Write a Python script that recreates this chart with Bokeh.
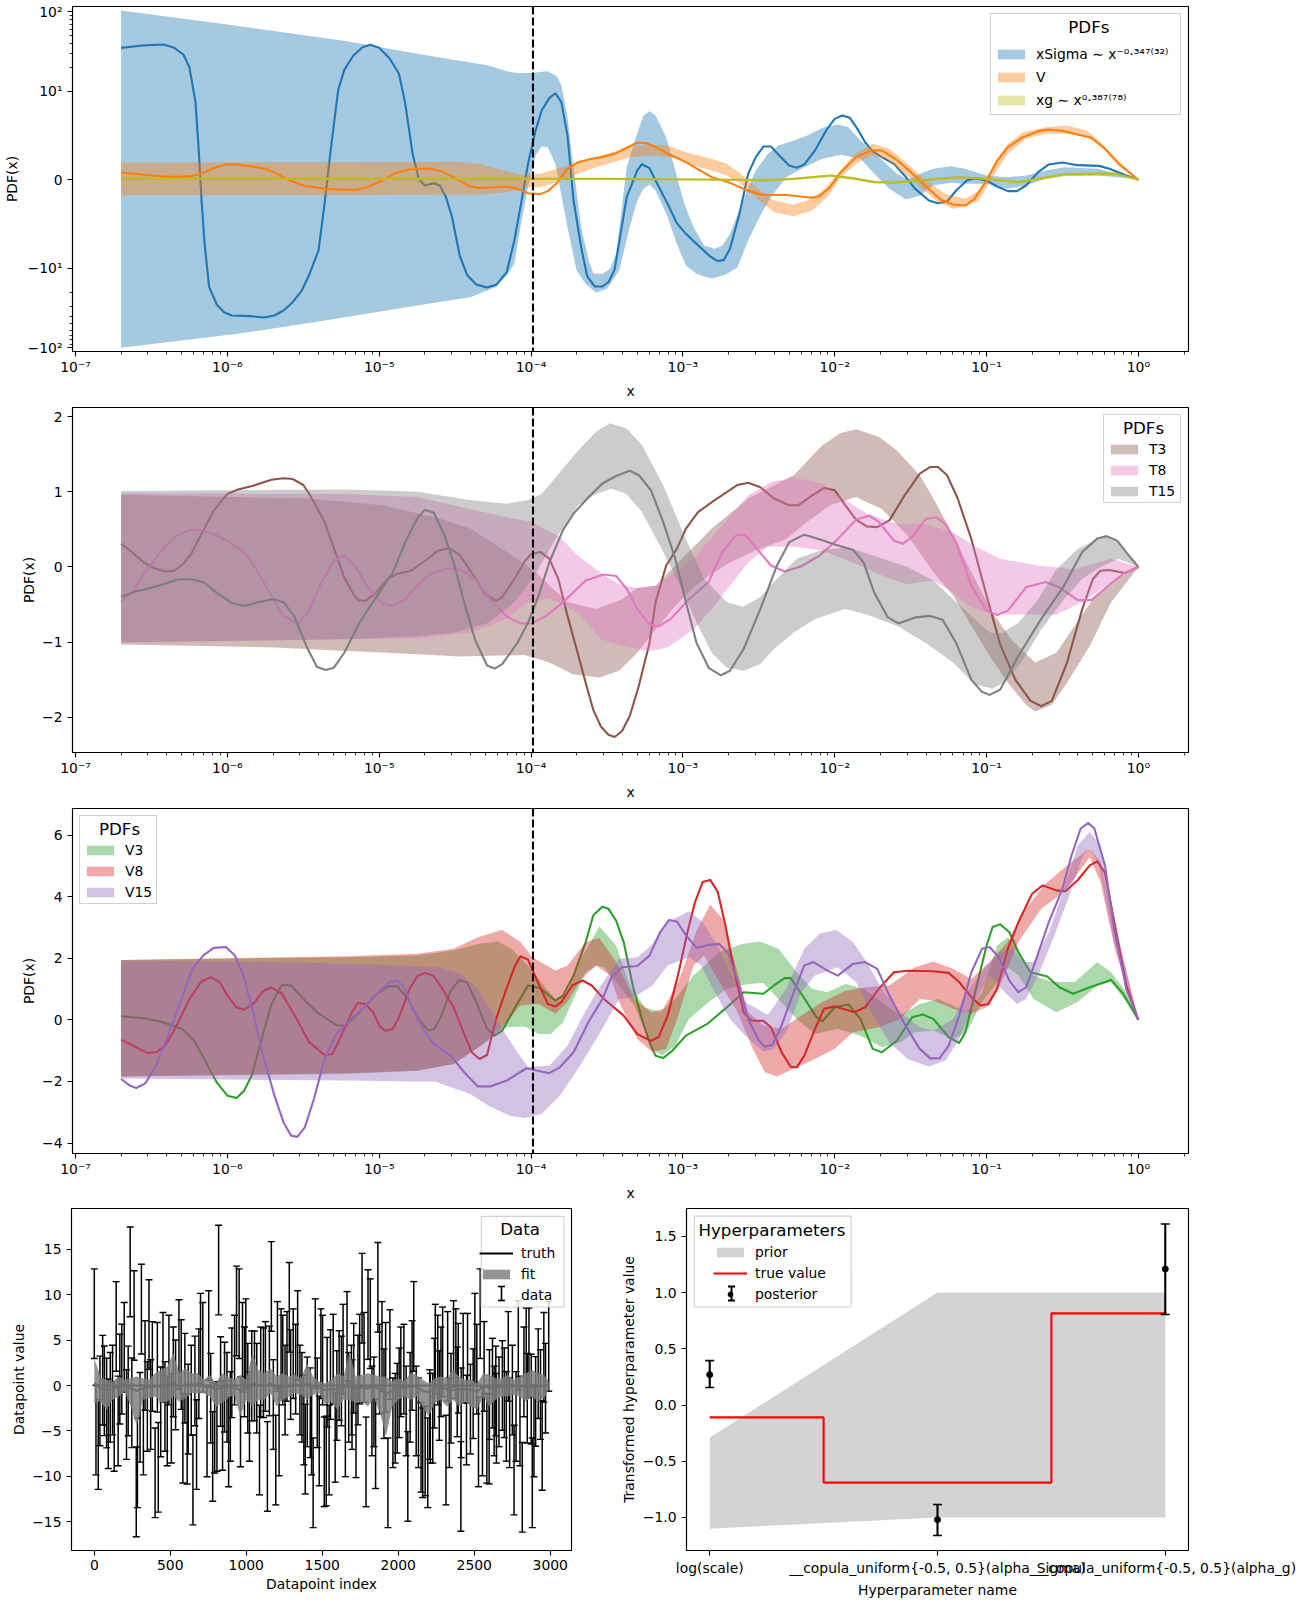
import numpy as np
from bokeh.embed import file_html
from bokeh.layouts import column, row
from bokeh.models import BoxAnnotation, FixedTicker, Label, Legend, LegendItem, Range1d, Span, TeeHead, Whisker, ColumnDataSource
from bokeh.core.properties import value
from bokeh.plotting import figure
from bokeh.resources import INLINE

# ---------- panel 1 (x as log10 x, y in PDF units) ----------
XSIGMA_E = [-6.70,-6.56,-6.42,-6.35,-6.29,-6.25,-6.21,-6.19,-6.17,-6.15,-6.12,-6.07,-6.02,-5.97,-5.85,-5.76,-5.69,-5.63,-5.57,-5.51,-5.46,-5.40,-5.36,-5.32,-5.27,-5.23,-5.17,-5.11,-5.06,-5.00,-4.93,-4.87,-4.83,-4.78,-4.74,-4.70,-4.64,-4.60,-4.56,-4.52,-4.47,-4.42,-4.36,-4.29,-4.23,-4.16,-4.11,-4.07,-4.02,-3.97,-3.93,-3.88,-3.84,-3.80,-3.76,-3.72,-3.67,-3.63,-3.58,-3.53,-3.49,-3.45,-3.41,-3.37,-3.30,-3.27,-3.22,-3.18,-3.10,-3.04,-2.98,-2.91,-2.82,-2.77,-2.73,-2.69,-2.63,-2.57,-2.52,-2.47,-2.42,-2.37,-2.30,-2.25,-2.20,-2.13,-2.05,-2.00,-1.95,-1.90,-1.85,-1.80,-1.75,-1.69,-1.61,-1.54,-1.47,-1.38,-1.32,-1.26,-1.20,-1.13,-1.08,-1.00,-0.93,-0.86,-0.80,-0.74,-0.66,-0.59,-0.50,-0.40,-0.26,-0.19,-0.08,0.0]
XSIGMA_Y = [35.4,37.9,39,35.4,29.2,20.2,8.79,3.7,-2.34,-7.25,-17.3,-28.6,-36.1,-39.4,-40.1,-41.8,-39.4,-34.1,-26.8,-19.1,-12.0,-8.0,-2.72,3.32,10.5,18.7,28.4,36.1,38.8,35.4,25.8,16.7,8.79,2.94,0.11,-0.64,-0.38,-0.64,-1.96,-4.23,-8.57,-12.3,-16.1,-17.5,-16.2,-11.2,-6.87,-3.09,1.81,5.58,7.85,9.25,9.8,8.79,5.02,-2.34,-7.62,-12.7,-17.0,-17.0,-15,-10.5,-6.11,-1.96,1.06,1.77,1.32,-0.08,-2.72,-4.9,-6.11,-7.25,-8.68,-9.2,-9.06,-7.81,-4.04,0.68,2.57,3.77,3.77,2.83,1.62,1.36,1.74,3.32,5.77,6.9,7.28,7.02,5.77,4.26,3.25,2.57,1.81,0.49,-1.02,-2.34,-2.64,-2.45,-1.21,-0.08,0.19,-0.08,-0.75,-1.28,-1.28,-0.64,0.87,1.74,1.96,1.66,1.58,1.25,0.49,0.0]
XSIGMA_UP_E = [-6.70,-6.0,-5.22,-4.75,-4.28,-4.16,-4.09,-3.99,-3.89,-3.83,-3.80,-3.76,-3.72,-3.67,-3.62,-3.59,-3.53,-3.48,-3.44,-3.41,-3.37,-3.31,-3.26,-3.22,-3.18,-3.11,-3.05,-2.99,-2.93,-2.86,-2.79,-2.74,-2.69,-2.63,-2.57,-2.52,-2.44,-2.37,-2.27,-2.18,-2.08,-1.98,-1.91,-1.83,-1.76,-1.66,-1.59,-1.52,-1.44,-1.35,-1.24,-1.14,-1.0,-0.86,-0.74,-0.61,-0.49,-0.27,-0.13,0.0]
XSIGMA_UP = [104.5,69.7,43,29.8,21.2,18,17,17.2,18,15.5,11.9,7.09,1.43,-5.36,-9.1,-11.6,-11.8,-10.2,-8.38,-4.23,1.43,4.83,7.28,7.77,7.28,4.83,1.06,-2.72,-5.36,-7.43,-7.81,-7.43,-6.11,-3.47,-0.83,1.06,2.94,3.89,4.45,5.02,5.89,6.26,5.96,4.45,3.32,1.81,0.68,0.04,0.68,1.25,1.55,1.25,0.49,0.30,0.49,1.06,1.43,1.25,0.68,0.0]
XSIGMA_LO_E = [-6.70,-5.93,-5.22,-4.75,-4.40,-4.23,-4.16,-4.11,-4.07,-4.02,-3.97,-3.93,-3.89,-3.84,-3.81,-3.76,-3.70,-3.64,-3.57,-3.50,-3.42,-3.35,-3.30,-3.26,-3.22,-3.18,-3.10,-3.04,-2.98,-2.91,-2.81,-2.71,-2.64,-2.57,-2.49,-2.42,-2.32,-2.20,-2.08,-1.96,-1.83,-1.74,-1.64,-1.53,-1.44,-1.35,-1.24,-1.14,-1.0,-0.86,-0.74,-0.61,-0.49,-0.27,-0.13,0.0]
XSIGMA_LO = [-100,-67,-41.3,-29.5,-23.2,-17.3,-12.4,-9.5,-5.36,-0.83,2.75,3.81,3.7,1.81,-0.83,-5.36,-10.7,-15.8,-20.4,-18.2,-10.7,-5.36,-2.34,-1.02,-0.57,-1.21,-4.23,-7.25,-9.7,-11.8,-13.6,-11.8,-9.89,-6.87,-4.04,-1.96,0.30,1.43,2.38,2.83,2.38,0.68,-1.02,-2.23,-1.77,-0.64,-0.34,-0.45,-0.45,-1.02,-0.64,0.11,0.49,0.49,0.3,0.0]

V_E = [-6.70,-6.56,-6.42,-6.30,-6.23,-6.16,-6.09,-6.01,-5.95,-5.85,-5.75,-5.68,-5.60,-5.50,-5.36,-5.24,-5.15,-5.08,-4.98,-4.89,-4.80,-4.68,-4.59,-4.49,-4.40,-4.35,-4.27,-4.16,-4.09,-4.02,-3.94,-3.89,-3.83,-3.76,-3.69,-3.60,-3.53,-3.44,-3.30,-3.24,-3.18,-3.09,-2.98,-2.88,-2.81,-2.69,-2.57,-2.47,-2.32,-2.15,-2.10,-2.03,-1.96,-1.86,-1.76,-1.69,-1.59,-1.47,-1.37,-1.30,-1.22,-1.14,-1.08,-1.0,-0.93,-0.86,-0.76,-0.66,-0.59,-0.49,-0.40,-0.31,-0.22,-0.13,0.0]
V_Y = [0.83,0.60,0.38,0.34,0.45,0.79,1.32,1.74,1.77,1.55,1.25,0.75,0,-0.64,-1.02,-1.13,-1.13,-0.83,-0.08,0.79,1.17,1.32,0.98,0.11,-0.75,-0.91,-0.87,-0.75,-1.02,-1.51,-1.62,-1.28,-0.38,1.25,2.0,2.38,2.6,3.02,4.23,4.15,3.7,2.87,2.0,0.98,0.3,-0.34,-1.25,-1.72,-1.72,-2.02,-1.85,-0.83,0.87,2.57,3.32,3.32,2.26,0.42,-1.21,-2.26,-2.79,-2.91,-2.15,-0.08,2.19,3.7,4.83,5.51,5.7,5.51,5.13,4.76,3.51,1.81,0.0]
V_UP_E = [-6.70,-5.24,-4.48,-4.34,-4.20,-4.06,-3.94,-3.83,-3.69,-3.57,-3.35,-3.22,-3.10,-2.98,-2.81,-2.71,-2.62,-2.52,-2.40,-2.27,-2.18,-2.08,-1.98,-1.88,-1.75,-1.64,-1.52,-1.40,-1.27,-1.14,-1.05,-0.96,-0.86,-0.76,-0.61,-0.47,-0.34,-0.26,-0.13,0.0]
V_UP = [1.96,2.0,2.04,1.81,1.17,0.57,0.68,1.25,2.0,2.49,3.77,3.96,3.89,3.13,2.38,1.81,0.68,-0.83,-2.34,-2.79,-2.34,-1.21,0.68,2.75,4.08,3.51,1.81,-0.08,-1.59,-2.15,-1.21,1.43,4.08,5.4,5.96,6.15,5.59,4.45,2.19,0.0]
V_LO_E = [-6.70,-5.24,-4.55,-4.32,-4.16,-4.04,-3.94,-3.83,-3.69,-3.57,-3.35,-3.18,-3.05,-2.93,-2.81,-2.71,-2.62,-2.52,-2.40,-2.27,-2.15,-2.05,-1.96,-1.86,-1.76,-1.66,-1.54,-1.41,-1.32,-1.22,-1.14,-1.05,-0.96,-0.86,-0.74,-0.61,-0.47,-0.34,-0.26,-0.13,0.0]
V_LO = [-1.74,-1.74,-1.66,-1.66,-1.40,-0.91,-0.83,-0.26,0.68,1.43,2.57,2.75,2.49,1.62,1.06,0.49,-0.45,-1.96,-3.66,-4.11,-3.47,-1.96,0.30,1.81,2.75,2.38,0.68,-1.21,-2.53,-3.28,-3.02,-2.34,0.30,2.94,4.64,5.21,5.21,4.83,4.08,2.0,0.0]

XG_E = [-6.70,-3.5,-3.0,-2.57,-2.44,-2.27,-2.03,-1.88,-1.74,-1.61,-1.44,-1.32,-1.18,-1.0,-0.79,-0.61,-0.49,-0.27,-0.15,0.0]
XG_Y = [0.11,0.11,0.04,0,-0.08,0.11,0.49,0.19,-0.26,-0.34,-0.08,0.11,0.3,0.11,-0.26,0.23,0.6,0.68,0.68,0.0]
XG_BAND_E = [-6.70,-3.00,-2.57,-2.27,-2.03,-1.74,-1.44,-1.18,-1.00,-0.79,-0.49,-0.27,-0.15,0.0]
XG_UP = [0.17,0.17,0.1,0.25,0.6,-0.1,0.05,0.42,0.3,-0.1,0.8,0.9,0.9,0.0]
XG_LO = [0.05,0.05,-0.15,0,0.3,-0.4,-0.2,0.15,0,-0.4,0.4,0.5,0.5,0.0]

# ---------- panel 2 ----------
T3_E = [-6.70,-6.63,-6.55,-6.49,-6.41,-6.35,-6.29,-6.24,-6.17,-6.09,-6.0,-5.93,-5.83,-5.71,-5.63,-5.57,-5.50,-5.46,-5.36,-5.29,-5.23,-5.17,-5.14,-5.09,-5.03,-4.94,-4.88,-4.79,-4.70,-4.61,-4.54,-4.47,-4.40,-4.30,-4.23,-4.19,-4.11,-4.04,-4.0,-3.94,-3.88,-3.82,-3.76,-3.70,-3.64,-3.59,-3.54,-3.49,-3.45,-3.40,-3.35,-3.29,-3.22,-3.18,-3.11,-3.04,-2.98,-2.90,-2.79,-2.64,-2.57,-2.49,-2.40,-2.30,-2.24,-2.15,-2.07,-2.0,-1.93,-1.86,-1.79,-1.72,-1.64,-1.54,-1.44,-1.37,-1.32,-1.26,-1.19,-1.10,-1.0,-0.91,-0.81,-0.71,-0.64,-0.57,-0.47,-0.37,-0.30,-0.25,-0.19,-0.09,0.0]
T3_Y = [0.31,0.20,0.06,-0.01,-0.06,-0.05,0.04,0.17,0.44,0.75,0.97,1.03,1.08,1.16,1.18,1.17,1.09,0.97,0.60,0.20,-0.14,-0.36,-0.44,-0.45,-0.36,-0.15,-0.09,-0.05,0.08,0.22,0.25,0.16,-0.05,-0.36,-0.45,-0.40,-0.16,0.08,0.17,0.20,0.11,-0.16,-0.65,-1.09,-1.54,-1.90,-2.12,-2.23,-2.26,-2.18,-1.98,-1.58,-1.01,-0.47,0.02,0.24,0.51,0.73,0.89,1.09,1.12,1.06,0.91,0.82,0.82,0.95,1.05,1.02,0.82,0.63,0.54,0.53,0.62,0.95,1.24,1.33,1.33,1.22,0.91,0.37,-0.38,-1.03,-1.50,-1.78,-1.85,-1.78,-1.27,-0.56,-0.16,-0.05,-0.04,-0.08,0.0]
T3_UP_E = [-6.70,-5.46,-4.98,-4.63,-4.40,-4.16,-3.97,-3.76,-3.57,-3.40,-3.30,-3.18,-3.05,-2.81,-2.57,-2.27,-2.08,-1.96,-1.86,-1.71,-1.59,-1.44,-1.35,-1.22,-1.10,-0.96,-0.83,-0.68,-0.54,-0.42,-0.30,-0.18,0.0]
T3_UP = [0.96,0.91,0.82,0.66,0.51,0.20,-0.07,-0.47,-0.56,-0.43,-0.28,-0.25,0.02,0.51,0.91,1.22,1.62,1.78,1.83,1.73,1.55,1.22,0.91,0.42,-0.07,-0.61,-0.98,-1.27,-1.14,-0.78,-0.43,-0.20,0.0]
T3_LO_E = [-6.70,-5.69,-4.75,-4.47,-4.04,-3.88,-3.72,-3.55,-3.42,-3.30,-3.18,-3.05,-2.93,-2.81,-2.69,-2.52,-2.32,-2.18,-2.03,-1.86,-1.69,-1.52,-1.35,-1.22,-1.10,-0.98,-0.86,-0.74,-0.68,-0.57,-0.47,-0.32,-0.18,0.0]
T3_LO = [-1.03,-1.07,-1.16,-1.19,-1.17,-1.27,-1.43,-1.47,-1.38,-1.14,-0.83,-0.52,-0.27,-0.09,0.06,0.22,0.37,0.60,0.82,0.93,0.77,0.42,-0.07,-0.38,-0.78,-1.18,-1.54,-1.83,-1.92,-1.83,-1.54,-1.05,-0.47,0.0]

T8_E = [-6.70,-6.62,-6.54,-6.44,-6.35,-6.25,-6.17,-6.07,-5.97,-5.88,-5.81,-5.71,-5.63,-5.54,-5.47,-5.38,-5.30,-5.23,-5.16,-5.07,-4.98,-4.91,-4.83,-4.75,-4.66,-4.55,-4.46,-4.37,-4.26,-4.16,-4.07,-4.0,-3.90,-3.79,-3.64,-3.52,-3.44,-3.37,-3.30,-3.22,-3.16,-3.08,-2.96,-2.83,-2.74,-2.65,-2.59,-2.52,-2.42,-2.33,-2.22,-2.10,-1.98,-1.86,-1.77,-1.71,-1.61,-1.55,-1.49,-1.40,-1.33,-1.27,-1.20,-1.10,-1.0,-0.93,-0.86,-0.74,-0.61,-0.52,-0.40,-0.31,-0.20,-0.10,0.0]
T8_Y = [-0.47,-0.32,-0.07,0.20,0.40,0.49,0.49,0.42,0.31,0.17,-0.03,-0.38,-0.65,-0.75,-0.61,-0.20,0.08,0.15,0.02,-0.29,-0.48,-0.52,-0.43,-0.25,-0.09,-0.02,-0.04,-0.16,-0.45,-0.66,-0.75,-0.75,-0.65,-0.47,-0.18,-0.10,-0.12,-0.29,-0.56,-0.76,-0.79,-0.69,-0.43,-0.20,0.20,0.42,0.43,0.26,0.02,-0.06,0.01,0.15,0.37,0.63,0.68,0.60,0.35,0.31,0.40,0.64,0.66,0.57,0.33,-0.25,-0.58,-0.64,-0.58,-0.27,-0.20,-0.27,-0.44,-0.44,-0.25,-0.09,0.0]
T8_UP_E = [-6.70,-5.23,-4.75,-4.40,-4.16,-4.0,-3.81,-3.69,-3.53,-3.42,-3.30,-3.18,-3.05,-2.93,-2.76,-2.57,-2.42,-2.27,-2.08,-1.96,-1.79,-1.59,-1.40,-1.22,-1.08,-0.91,-0.66,-0.42,-0.18,0.0]
T8_UP = [0.98,0.97,0.93,0.77,0.66,0.60,0.40,0.15,-0.09,-0.23,-0.28,-0.25,-0.07,0.11,0.51,0.95,1.13,1.19,1.11,0.93,0.71,0.57,0.57,0.46,0.28,0.11,0.02,-0.03,0.11,0.0]
T8_LO_E = [-6.70,-5.23,-4.75,-4.40,-4.16,-4.04,-3.88,-3.69,-3.54,-3.40,-3.22,-3.10,-2.93,-2.81,-2.69,-2.57,-2.44,-2.27,-2.08,-1.88,-1.66,-1.52,-1.35,-1.22,-1.10,-0.96,-0.74,-0.54,-0.37,-0.18,0.0]
T8_LO = [-1.01,-0.96,-0.95,-0.87,-0.69,-0.49,-0.42,-0.61,-0.96,-1.05,-1.12,-1.07,-0.83,-0.56,-0.25,0.06,0.27,0.27,0.22,0.06,-0.14,-0.23,-0.18,-0.34,-0.54,-0.63,-0.63,-0.63,-0.47,-0.20,0.0]

T15_E = [-6.70,-6.61,-6.47,-6.33,-6.24,-6.16,-6.07,-5.97,-5.89,-5.80,-5.70,-5.63,-5.56,-5.48,-5.41,-5.35,-5.30,-5.23,-5.13,-5.03,-4.91,-4.82,-4.75,-4.70,-4.64,-4.57,-4.51,-4.44,-4.37,-4.29,-4.24,-4.19,-4.09,-4.02,-3.95,-3.88,-3.79,-3.72,-3.62,-3.53,-3.44,-3.35,-3.29,-3.21,-3.13,-3.05,-2.98,-2.91,-2.83,-2.75,-2.69,-2.60,-2.49,-2.38,-2.30,-2.20,-2.10,-2.0,-1.88,-1.81,-1.74,-1.65,-1.58,-1.47,-1.37,-1.29,-1.20,-1.10,-1.03,-0.98,-0.91,-0.79,-0.64,-0.49,-0.37,-0.27,-0.21,-0.14,-0.07,0.0]
T15_Y = [-0.40,-0.33,-0.26,-0.17,-0.16,-0.20,-0.34,-0.48,-0.52,-0.47,-0.43,-0.47,-0.65,-1.05,-1.33,-1.37,-1.34,-1.14,-0.74,-0.43,-0.07,0.37,0.64,0.76,0.72,0.42,0.06,-0.47,-0.96,-1.31,-1.35,-1.29,-1.01,-0.74,-0.38,0.06,0.49,0.71,0.93,1.11,1.21,1.28,1.22,1.02,0.60,0.11,-0.47,-1.01,-1.34,-1.44,-1.38,-1.09,-0.56,0.02,0.33,0.43,0.37,0.30,0.23,0.06,-0.34,-0.67,-0.75,-0.67,-0.65,-0.70,-1.01,-1.50,-1.66,-1.70,-1.63,-1.18,-0.69,-0.25,0.20,0.38,0.41,0.35,0.17,0.0]
T15_UP_E = [-6.70,-5.23,-4.75,-4.40,-4.16,-4.02,-3.93,-3.81,-3.69,-3.57,-3.48,-3.37,-3.27,-3.13,-2.98,-2.86,-2.71,-2.60,-2.49,-2.40,-2.25,-2.08,-1.91,-1.74,-1.52,-1.35,-1.22,-1.10,-0.98,-0.90,-0.79,-0.66,-0.54,-0.40,-0.22,-0.13,0.0]
T15_UP = [1.01,1.03,1.0,0.89,0.84,0.89,0.97,1.26,1.55,1.80,1.91,1.84,1.62,1.09,0.37,-0.16,-0.47,-0.53,-0.40,-0.20,0.11,0.23,0.26,0.15,0.0,-0.18,-0.43,-0.65,-0.87,-0.88,-0.74,-0.43,-0.03,0.24,0.42,0.33,0.0]
T15_LO_E = [-6.70,-5.23,-4.75,-4.50,-4.28,-4.11,-3.97,-3.84,-3.69,-3.57,-3.47,-3.37,-3.27,-3.15,-3.03,-2.91,-2.81,-2.71,-2.60,-2.49,-2.40,-2.27,-2.13,-1.93,-1.79,-1.59,-1.40,-1.22,-1.08,-0.96,-0.86,-0.76,-0.64,-0.49,-0.37,-0.25,-0.13,0.0]
T15_LO = [-1.0,-0.96,-0.92,-0.87,-0.74,-0.47,-0.09,0.37,0.82,0.97,1.04,0.97,0.73,0.28,-0.20,-0.74,-1.14,-1.34,-1.38,-1.29,-1.09,-0.87,-0.69,-0.56,-0.63,-0.78,-1.01,-1.27,-1.56,-1.62,-1.50,-1.23,-0.83,-0.43,-0.16,0.0,0.11,0.0]

# ---------- panel 3 ----------
V3_E = [-6.70,-6.54,-6.42,-6.30,-6.22,-6.14,-6.07,-6.0,-5.94,-5.89,-5.84,-5.78,-5.71,-5.64,-5.58,-5.50,-5.41,-5.28,-5.22,-5.13,-5.03,-4.94,-4.88,-4.81,-4.75,-4.68,-4.64,-4.59,-4.53,-4.47,-4.42,-4.36,-4.29,-4.24,-4.19,-4.11,-4.02,-3.94,-3.84,-3.79,-3.72,-3.64,-3.59,-3.53,-3.49,-3.44,-3.39,-3.33,-3.27,-3.22,-3.18,-3.13,-3.07,-2.98,-2.84,-2.71,-2.60,-2.47,-2.40,-2.33,-2.29,-2.22,-2.12,-2.08,-2.0,-1.91,-1.83,-1.75,-1.69,-1.59,-1.49,-1.42,-1.35,-1.25,-1.18,-1.14,-1.08,-1.0,-0.96,-0.91,-0.85,-0.79,-0.71,-0.60,-0.52,-0.43,-0.32,-0.18,-0.10,0.0]
V3_Y = [0.12,0.05,-0.08,-0.29,-0.67,-1.38,-2.03,-2.46,-2.54,-2.30,-1.81,-0.73,0.52,1.14,1.12,0.68,0.25,-0.18,-0.18,0.25,0.79,1.09,1.09,0.68,0.09,-0.33,-0.31,0.14,0.95,1.31,1.20,0.58,-0.29,-0.51,-0.35,0.36,1.12,1.03,0.63,0.79,1.44,2.53,3.40,3.68,3.61,3.23,2.53,1.12,0.03,-0.73,-1.16,-1.24,-1.0,-0.51,-0.13,0.41,0.90,0.85,1.12,1.36,1.36,0.85,0.09,-0.04,0.41,0.50,0.03,-0.94,-1.05,-0.67,0.09,0.18,0.03,-0.56,-0.75,-0.40,0.79,2.42,3.02,3.11,2.85,2.20,1.55,1.41,1.06,0.85,1.06,1.30,0.85,0.0]
V3_UP_E = [-6.70,-5.22,-4.75,-4.51,-4.35,-4.22,-4.13,-4.02,-3.90,-3.84,-3.76,-3.67,-3.55,-3.44,-3.35,-3.25,-3.15,-3.05,-2.93,-2.76,-2.61,-2.49,-2.37,-2.25,-2.15,-2.05,-1.93,-1.81,-1.69,-1.57,-1.44,-1.32,-1.22,-1.13,-1.03,-0.93,-0.86,-0.79,-0.69,-0.57,-0.42,-0.27,-0.18,-0.08,0.0]
V3_UP = [1.95,2.04,2.09,2.26,2.47,2.55,2.31,1.77,1.01,0.68,0.90,1.99,3.04,2.42,1.12,0.41,0.25,0.68,1.44,2.20,2.47,2.55,2.31,1.55,1.01,0.90,1.17,1.01,0.58,0.14,0.52,0.68,0.47,0.25,0.90,2.42,2.69,2.20,1.44,1.23,1.23,1.88,1.55,0.90,0.0]
V3_LO_E = [-6.70,-5.22,-4.75,-4.51,-4.33,-4.16,-4.04,-3.95,-3.87,-3.79,-3.72,-3.64,-3.57,-3.52,-3.44,-3.32,-3.20,-3.14,-3.05,-2.96,-2.83,-2.71,-2.57,-2.47,-2.37,-2.25,-2.13,-1.98,-1.83,-1.69,-1.57,-1.47,-1.35,-1.22,-1.13,-1.03,-0.96,-0.86,-0.79,-0.69,-0.54,-0.40,-0.27,-0.18,-0.08,0.0]
V3_LO = [-1.84,-1.76,-1.65,-1.43,-0.84,-0.24,-0.21,-0.46,-0.46,-0.08,0.68,1.55,1.77,1.71,1.23,0.47,-0.94,-1.16,-0.84,0.03,0.58,1.01,1.17,1.20,0.68,0.03,-0.46,-0.29,-0.51,-0.89,-0.73,-0.40,-0.35,-0.62,-0.40,0.58,1.01,1.71,1.44,0.68,0.25,0.58,1.12,1.23,0.58,0.0]

V8_E = [-6.70,-6.62,-6.53,-6.47,-6.41,-6.34,-6.25,-6.17,-6.11,-6.05,-6.0,-5.94,-5.89,-5.83,-5.76,-5.71,-5.64,-5.55,-5.46,-5.36,-5.31,-5.27,-5.18,-5.14,-5.09,-5.04,-5.0,-4.96,-4.91,-4.87,-4.80,-4.75,-4.70,-4.64,-4.57,-4.51,-4.44,-4.39,-4.34,-4.29,-4.23,-4.17,-4.11,-4.07,-4.02,-3.97,-3.89,-3.84,-3.80,-3.73,-3.66,-3.60,-3.52,-3.39,-3.30,-3.21,-3.16,-3.10,-3.03,-2.97,-2.92,-2.87,-2.82,-2.77,-2.72,-2.66,-2.60,-2.55,-2.47,-2.42,-2.35,-2.29,-2.25,-2.20,-2.13,-2.07,-2.0,-1.93,-1.87,-1.80,-1.71,-1.61,-1.52,-1.35,-1.25,-1.18,-1.10,-1.04,-0.99,-0.93,-0.86,-0.79,-0.70,-0.63,-0.54,-0.48,-0.40,-0.32,-0.27,-0.22,-0.15,-0.08,0.0]
V8_Y = [-0.64,-0.84,-1.07,-1.05,-0.84,-0.24,0.68,1.25,1.39,1.23,0.79,0.41,0.33,0.52,0.95,1.06,0.85,0.09,-0.73,-1.14,-1.11,-0.73,0.25,0.55,0.52,0.25,-0.18,-0.36,-0.29,0.09,1.01,1.42,1.53,1.42,0.90,0.41,-0.46,-1.05,-1.27,-1.14,0.03,0.90,1.71,2.07,1.96,1.39,0.52,0.44,0.58,1.12,1.28,1.12,0.68,0.14,-0.46,-0.68,-0.56,0.14,1.50,2.85,3.83,4.48,4.55,4.16,3.07,1.55,0.25,-0.02,-0.03,-0.24,-1.05,-1.52,-1.54,-1.16,-0.29,0.36,0.44,0.34,0.25,0.41,1.01,1.55,1.60,1.58,1.53,1.23,0.74,0.47,0.52,1.01,2.31,3.18,4.10,4.37,4.21,4.18,4.54,5.02,5.15,4.78,2.96,1.12,0.0]
V8_UP_E = [-6.70,-5.22,-4.75,-4.51,-4.35,-4.19,-4.07,-3.99,-3.84,-3.76,-3.64,-3.55,-3.44,-3.32,-3.21,-3.13,-3.03,-2.91,-2.82,-2.74,-2.64,-2.57,-2.47,-2.35,-2.22,-2.08,-1.93,-1.79,-1.64,-1.47,-1.35,-1.22,-1.10,-0.98,-0.86,-0.76,-0.61,-0.47,-0.32,-0.25,-0.15,0.0]
V8_UP = [1.95,2.07,2.15,2.31,2.69,2.93,2.53,2.04,1.61,1.77,2.53,2.66,1.88,0.68,0.25,0.36,1.23,2.9,3.75,3.29,1.55,0.25,-0.18,-0.29,0.14,0.58,0.95,1.06,1.12,1.71,1.90,1.66,1.33,1.88,2.53,3.50,4.43,5.02,5.59,5.13,2.96,0.0]
V8_LO_E = [-6.70,-5.22,-4.75,-4.51,-4.33,-4.19,-4.07,-3.95,-3.84,-3.76,-3.67,-3.57,-3.48,-3.42,-3.30,-3.20,-3.11,-3.03,-2.93,-2.86,-2.76,-2.64,-2.54,-2.46,-2.38,-2.27,-2.15,-2.0,-1.88,-1.71,-1.57,-1.44,-1.35,-1.22,-1.10,-0.98,-0.88,-0.79,-0.64,-0.49,-0.32,-0.25,-0.15,0.0]
V8_LO = [-1.84,-1.73,-1.65,-1.43,-0.84,-0.24,0.47,0.52,0.20,0.58,1.33,1.77,1.44,0.58,-0.62,-1.05,-0.94,0.14,1.77,2.09,1.23,0.25,-0.94,-1.70,-1.84,-1.59,-1.32,-0.94,-0.40,-0.24,0.03,0.68,0.63,0.36,0.20,0.47,1.44,2.53,3.61,4.16,5.29,4.48,2.20,0.0]

V15_E = [-6.70,-6.64,-6.60,-6.54,-6.47,-6.40,-6.31,-6.23,-6.16,-6.09,-6.01,-5.95,-5.89,-5.83,-5.77,-5.69,-5.63,-5.58,-5.54,-5.49,-5.43,-5.36,-5.29,-5.22,-5.10,-4.98,-4.93,-4.88,-4.83,-4.79,-4.70,-4.64,-4.53,-4.44,-4.35,-4.27,-4.16,-4.03,-3.88,-3.81,-3.72,-3.62,-3.53,-3.47,-3.40,-3.30,-3.22,-3.15,-3.09,-3.04,-2.98,-2.91,-2.83,-2.76,-2.70,-2.63,-2.57,-2.50,-2.46,-2.41,-2.35,-2.27,-2.20,-2.14,-2.05,-1.98,-1.88,-1.80,-1.72,-1.64,-1.54,-1.44,-1.37,-1.31,-1.25,-1.18,-1.10,-1.03,-0.98,-0.92,-0.85,-0.79,-0.74,-0.68,-0.59,-0.50,-0.44,-0.38,-0.33,-0.29,-0.22,-0.16,-0.08,0.0]
V15_Y = [-1.92,-2.14,-2.21,-2.06,-1.49,-0.62,0.58,1.66,2.09,2.34,2.37,2.09,1.39,0.25,-1.05,-2.46,-3.33,-3.76,-3.80,-3.49,-2.57,-1.27,-0.51,-0.13,0.41,1.01,1.23,1.28,1.01,0.47,-0.40,-0.78,-1.16,-1.70,-2.16,-2.16,-1.97,-1.57,-1.73,-1.54,-1.05,-0.05,0.68,1.39,1.71,1.75,2.09,2.85,3.25,3.20,2.75,2.34,2.44,2.47,2.15,1.12,0.03,-0.67,-0.87,-0.81,-0.18,0.90,1.77,1.88,1.61,1.44,1.82,1.88,1.66,0.79,-0.13,-0.94,-1.25,-1.25,-0.84,0.14,1.55,2.31,2.37,2.04,1.28,0.90,1.06,1.88,3.18,4.26,5.35,6.22,6.40,6.22,5.02,2.96,1.01,0.0]
V15_UP_E = [-6.70,-5.69,-4.98,-4.60,-4.46,-4.35,-4.19,-4.09,-4.02,-3.88,-3.76,-3.67,-3.57,-3.42,-3.30,-3.21,-3.10,-2.96,-2.87,-2.76,-2.69,-2.59,-2.44,-2.32,-2.20,-2.10,-1.99,-1.88,-1.79,-1.69,-1.57,-1.44,-1.35,-1.22,-1.13,-1.0,-0.91,-0.83,-0.76,-0.69,-0.59,-0.49,-0.40,-0.32,-0.25,-0.15,0.0]
V15_UP = [1.93,1.88,1.79,1.71,1.50,1.01,-0.29,-1.05,-1.52,-1.49,-0.84,0.03,0.90,1.99,2.04,2.42,3.18,3.53,3.18,2.31,1.55,0.58,0.16,1.01,2.31,2.80,2.93,2.53,1.88,1.01,0.25,-0.24,-0.35,0.03,0.90,1.77,2.20,2.31,1.88,1.88,2.85,4.26,5.67,6.11,5.67,3.07,0.0]
V15_LO_E = [-6.70,-5.22,-4.63,-4.40,-4.28,-4.14,-4.04,-3.93,-3.81,-3.69,-3.57,-3.42,-3.32,-3.20,-3.10,-2.96,-2.88,-2.79,-2.69,-2.59,-2.47,-2.40,-2.32,-2.22,-2.13,-1.98,-1.86,-1.76,-1.64,-1.52,-1.38,-1.27,-1.18,-1.08,-0.98,-0.88,-0.80,-0.74,-0.66,-0.57,-0.47,-0.37,-0.32,-0.26,-0.16,0.0]
V15_LO = [-1.90,-1.97,-2.01,-2.41,-2.79,-3.11,-3.19,-3.06,-2.46,-1.59,-0.62,0.68,0.74,1.12,1.77,2.04,1.77,0.90,0.03,-0.51,-1.03,-0.94,-0.40,0.90,1.44,1.71,1.23,0.25,-0.73,-1.27,-1.51,-1.32,-0.62,0.58,1.44,0.90,0.52,0.68,1.44,2.53,3.83,5.29,5.62,5.02,2.53,0.0]

# ---------- panel 4 ----------
DATA_ERR = 4.93
DATA_X = [0,11,26,37,55,66,81,92,105,120,131,144,157,168,181,197,212,223,236,247,262,276,284,301,310,323,334,349,360,371,382,400,415,421,437,452,465,480,491,507,520,535,557,572,583,596,611,618,638,649,662,673,688,699,714,742,753,766,779,792,807,818,831,844,857,873,884,895,905,923,936,953,962,975,988,997,1010,1021,1036,1054,1069,1087,1095,1113,1126,1139,1152,1165,1178,1194,1205,1216,1229,1240,1255,1268,1283,1292,1309,1325,1338,1353,1366,1379,1388,1401,1421,1430,1440,1454,1467,1480,1491,1502,1513,1526,1532,1545,1554,1572,1585,1596,1611,1626,1637,1652,1663,1674,1692,1696,1707,1722,1735,1746,1762,1775,1788,1801,1816,1827,1840,1851,1866,1877,1893,1906,1917,1932,1945,1965,1980,1993,2006,2017,2037,2052,2063,2078,2091,2102,2118,2133,2150,2161,2177,2194,2207,2211,2227,2238,2244,2260,2270,2281,2292,2314,2325,2336,2347,2364,2379,2388,2395,2412,2414,2427,2449,2456,2475,2493,2504,2517,2528,2539,2554,2565,2583,2598,2600,2620,2631,2642,2646,2663,2685,2698,2711,2724,2733,2751,2762,2775,2790,2801,2816,2827,2842,2849,2860,2875,2882,2893,2904,2921,2936,2947,2958,2969,2990]
DATA_Y = [7.9,-4.9,-6.5,-1.7,0.58,-0.58,-1.93,-4.2,-1.3,-0.5,-4.5,6.5,-3.9,0.7,1.8,4.2,-3.2,-0.6,12.5,-1.9,7.7,-11.7,-8.5,-3.5,8.4,-4.9,2.2,-2.3,6.7,-2.1,2.1,-9.6,2.0,-9.0,-2.9,3.1,-2.3,-3.9,2.8,-3.6,1.5,0.07,4.5,2.3,-5.8,0.8,-5.9,-2.6,-0.5,-10.4,0.5,-6.5,1.3,5.2,4.2,-5.1,5.5,-1.4,-7.8,-4.7,-4.5,12.7,0.44,-4.4,-0.18,-1.3,-6.2,-3.4,1.4,2.8,8.2,7.9,-4.0,4.2,1.5,4.6,-0.3,-3.4,1.06,1.06,-0.3,-7.1,1.5,1.4,2.1,-8.9,1.6,10.9,-2.1,-8.2,4.3,-5.0,3.5,2.8,-0.5,3.2,8.6,1.2,3.5,1.8,5.5,-0.5,-1.3,-3.8,-7.0,-1.8,-3.0,-4.9,-10.7,4.6,-1.9,-6.1,3.5,2.8,-8.4,-8.3,0.36,-7.1,1.2,2.9,-5.7,-1.1,1.1,0.5,4.0,-5.1,5.4,-1.3,-0.5,-2.1,1.9,-5.2,0.6,2.9,9.6,3.1,-8.4,7.8,6.8,-2.8,-1.8,-6.4,10.8,1.8,4.3,-0.9,2.0,-10.7,3.4,-4.1,-3.6,-2.5,-0.8,1.5,1.8,-2.8,-10.0,-1.3,2.2,6.5,-2.8,-4.1,-6.8,-7.4,-7.2,-8.5,-3.2,-3.6,-3.6,0.26,4.0,2.8,-1.1,1.5,3.7,-8.2,3.2,-4.1,-1.4,4.4,3.5,-0.7,1.9,-11.1,-3.0,3.0,-3.8,3.0,-2.6,-0.9,5.2,1.8,-6.2,7.9,-5.0,2.1,-5.8,-5.9,-1.0,0.26,-2.8,-0.6,-3.6,-1.8,0,-0.8,-3.4,3.2,-4.1,-0.5,-9.3,-3.4,4.4,-3.9,-11.2,1.5,3.6,-1.4,3.6,-1.5,-10.7,-5.1,-1.75,1.3,-1.0,-6.6,3.1,-0.3,4.3]
FIT_X = [0,40,80,120,160,200,240,280,320,360,
         400,440,480,520,560,600,640,680,720,760,
         800,840,880,920,960,1000,1040,1080,1120,1160,
         1200,1240,1280,1320,1360,1400,1440,1480,1520,1560,
         1600,1640,1680,1720,1760,1800,1840,1880,1920,1960,
         2000,2040,2080,2120,2160,2200,2240,2280,2320,2360,
         2400,2440,2480,2520,2560,2600,2640,2680,2720,2760,
         2800,2840,2880,2920,2960,2990]
FIT_UP = [2.99,0.98,0.62,0.44,0.98,0.62,0.80,0.98,0.80,0.62,
          1.35,1.71,2.08,3.54,1.35,1.90,1.35,1.35,0.62,1.17,
          0.26,1.35,0.98,0.62,1.17,0.62,3.54,1.71,1.35,1.90,
          0.98,1.35,0.98,1.17,0.80,2.44,0.98,0.44,0.26,0.62,
          1.35,0.98,3.72,0.98,1.17,1.35,1.17,0.98,0.98,0.44,
          0.80,0.44,1.35,1.17,0.62,0.26,0.80,0.98,0.80,1.71,
          0.98,0.62,0.62,0.26,1.35,1.17,0.80,0.80,1.17,0.62,
          0.98,1.35,1.71,1.35,1.17,0.44]
FIT_LO = [-1.93,-1.75,-2.66,-1.57,-1.2,-0.66,-2.3,-4.48,-1.57,-1.39,
          -1.2,-1.93,-1.75,-1.2,-1.75,-1.39,-0.84,-0.84,-0.84,-1.2,
          -2.3,-1.93,-1.39,-1.02,-3.39,-1.57,-2.3,-1.57,-1.57,-0.84,
          -2.3,-1.57,-1.2,-0.84,-1.02,-1.57,-1.02,-0.84,-2.11,-1.75,
          -2.66,-1.57,-1.57,-1.93,-1.75,-2.3,-1.39,-3.03,-5.58,-2.3,
          -1.57,-1.2,-1.57,-1.2,-2.3,-3.39,-1.93,-1.57,-2.3,-1.57,
          -2.3,-1.75,-2.3,-2.66,-1.2,-2.3,-1.57,-1.2,-1.2,-1.02,
          -1.2,-1.75,-1.2,-1.75,-1.39,-0.47]
FIT_MEAN = [0.3,-0.3,-0.5,-0.4,-0.1,0.0,-0.3,-0.6,-0.3,-0.2,
            -0.1,-0.1,0.1,0.4,-0.2,0.1,0.1,0.1,-0.1,0.0,
            -0.5,-0.2,-0.2,-0.2,-0.5,-0.4,0.2,0.1,-0.1,0.2,
            -0.4,-0.1,-0.1,0.1,-0.1,0.2,-0.1,-0.2,-0.5,-0.4,
            -0.4,-0.2,0.5,-0.3,-0.2,-0.3,-0.1,-0.4,-0.9,-0.6,
            -0.2,-0.3,-0.1,-0.1,-0.6,-0.7,-0.3,-0.2,-0.4,0.0,
            -0.4,-0.4,-0.5,-0.7,0.0,-0.3,-0.2,-0.1,0.0,-0.1,
            -0.1,-0.1,0.1,-0.1,-0.1,0.0]
TRUTH_X = [0, 2990]
TRUTH_Y = [0, 0]

# ---------- panel 5 ----------
HP_NAMES = ["log(scale)", "__copula_uniform{-0.5, 0.5}(alpha_Sigma)", "__copula_uniform{-0.5, 0.5}(alpha_g)"]
HP_POS = [0, 1, 2]
PRIOR_UP = [-0.29, 1.0, 1.0]
PRIOR_LO = [-1.10, -1.0, -1.0]
TRUE_VALUE = [-0.11, -0.69, 0.815]
POST_MEAN = [0.27, -1.02, 1.21]
POST_UP = [0.395, -0.885, 1.61]
POST_LO = [0.156, -1.16, 0.805]

X_DECADES = [1e-7, 1e-6, 1e-5, 1e-4, 1e-3, 1e-2, 1e-1, 1.0]
X_DECADE_LABELS = ["10⁻⁷", "10⁻⁶", "10⁻⁵", "10⁻⁴", "10⁻³", "10⁻²", "10⁻¹", "10⁰"]
CUT_X = 1.03e-4
X_LOW = 10 ** -7.02
X_HIGH = 10 ** 0.33

FONT = "DejaVu Sans"
FS = "13.9px"
NB = "\u00a0"


def sym(v):
    v = np.asarray(v, dtype=float)
    a = np.abs(v)
    return np.sign(v) * np.where(a <= 10, a / 9.0, np.log10(np.maximum(a, 1e-12) / 10.0) + 10.0 / 9.0)


def style(p, xl, yl, xstd=5, xlab=5, ylab=5):
    p.xaxis.axis_label = xl
    p.yaxis.axis_label = yl
    for ax in (p.xaxis[0], p.yaxis[0]):
        ax.axis_label_text_font = FONT
        ax.axis_label_text_font_size = FS
        ax.axis_label_text_font_style = "normal"
        ax.axis_label_text_color = "black"
        ax.major_label_text_font = FONT
        ax.major_label_text_font_size = FS
        ax.major_label_text_color = "black"
        ax.major_label_standoff = 5
        ax.major_tick_in = 0
        ax.major_tick_out = 5
        ax.minor_tick_in = 0
        ax.minor_tick_out = 3
        ax.major_tick_line_width = 1.1
        ax.minor_tick_line_width = 0.8
        ax.major_tick_line_color = "black"
        ax.minor_tick_line_color = "black"
        ax.axis_line_width = 1.1
        ax.axis_line_color = "black"
    p.xaxis[0].major_label_standoff = xstd
    p.xaxis[0].axis_label_standoff = xlab
    p.yaxis[0].axis_label_standoff = ylab
    p.grid.visible = False
    p.outline_line_color = "black"
    p.outline_line_width = 1.1
    p.outline_line_alpha = 1.0
    p.background_fill_color = "white"
    p.border_fill_color = "white"


def set_ticks(ax, ticks, labels, minor=None):
    ticks = [float(t) for t in ticks]
    ax.ticker = FixedTicker(ticks=ticks, minor_ticks=[float(m) for m in (minor or [])])
    ax.major_label_overrides = {t: l for t, l in zip(ticks, labels)}


def make_legend(p, title, items, loc, label_width=20, spacing=5, title_pad=0, label_height=14, title_standoff=3,
                boxed=True):
    kw = dict(title=NB * title_pad + title) if title else {}
    leg = Legend(items=[LegendItem(label=l, renderers=[r]) for l, r in items], location=loc, **kw)
    leg.title_text_font = FONT
    leg.title_text_font_size = "16.7px"
    leg.title_text_font_style = "normal"
    leg.title_text_color = "black"
    leg.title_standoff = title_standoff
    leg.label_text_font = FONT
    leg.label_text_font_size = FS
    leg.label_text_color = "black"
    leg.label_height = label_height
    leg.label_width = label_width
    leg.label_standoff = 8
    leg.glyph_width = 34
    leg.glyph_height = 12
    leg.spacing = spacing
    leg.padding = 3
    leg.margin = 7
    if boxed:
        leg.border_line_color = "#cccccc"
        leg.border_line_width = 1.1
        leg.border_line_alpha = 0.9
        leg.background_fill_color = "white"
        leg.background_fill_alpha = 0.8
    else:
        leg.border_line_color = None
        leg.background_fill_alpha = 0.0
    p.add_layout(leg)
    return leg


def legend_box(p, left, right, top, bottom):
    # frame of a legend, placed in data coordinates, so that an error-bar key can stand on it
    p.add_layout(BoxAnnotation(left=left, right=right, top=top, bottom=bottom, fill_color="white", fill_alpha=0.8,
                               line_color="#cccccc", line_width=1.1, line_alpha=0.9, level="annotation"))


def pdf_figure(ylo, yhi, ylab=5):
    p = figure(width=1300, height=401, x_axis_type="log", output_backend="svg", toolbar_location=None,
               x_range=Range1d(X_LOW, X_HIGH), y_range=Range1d(ylo, yhi),
               min_border_left=70, min_border_right=112, min_border_top=6, min_border_bottom=50)
    style(p, "x", "PDF(x)", xstd=2, xlab=5, ylab=ylab)
    minor = [m * 10.0 ** k for k in range(-8, 1) for m in range(2, 10)]
    minor = [m for m in minor if X_LOW < m < X_HIGH]
    set_ticks(p.xaxis[0], X_DECADES, X_DECADE_LABELS, minor)
    return p


def series(p, ue, up, le, lo, le_x, ly, color):
    xs = [10.0 ** e for e in ue] + [10.0 ** e for e in le[::-1]]
    ys = list(up) + list(lo[::-1])
    r = p.patch(xs, ys, fill_color=color, fill_alpha=0.4, line_color=None)
    p.line([10.0 ** e for e in le_x], ly, line_color=color, line_width=2.1, line_join="round")
    return r


def cut(p):
    p.add_layout(Span(location=CUT_X, dimension="height", line_color="black", line_width=2.1, line_dash=[8, 3]))


def s(vals):
    return sym(vals).tolist()


def key_errorbar(p, cx, top, bot, width=1.6):
    # legend key of an error bar; "screen" units here run from the frame's lower-left corner
    w = Whisker(base=value(cx), upper=value(top), lower=value(bot), dimension="height",
                base_units="screen", upper_units="screen", lower_units="screen",
                line_color="black", line_width=width, level="annotation",
                upper_head=TeeHead(size=7, line_color="black", line_width=width),
                lower_head=TeeHead(size=7, line_color="black", line_width=width))
    p.add_layout(w)


# ---- panel 1
p1 = pdf_figure(-2.159, 2.18, ylab=5)
r1 = series(p1, XSIGMA_UP_E, s(XSIGMA_UP), XSIGMA_LO_E, s(XSIGMA_LO), XSIGMA_E, s(XSIGMA_Y), "#1f77b4")
r2 = series(p1, V_UP_E, s(V_UP), V_LO_E, s(V_LO), V_E, s(V_Y), "#ff7f0e")
r3 = series(p1, XG_BAND_E, s(XG_UP), XG_BAND_E, s(XG_LO), XG_E, s(XG_Y), "#bcbd22")
cut(p1)
SYM_TICKS = [-100, -10, 0, 10, 100]
SYM_LABELS = ["−10²", "−10¹", "0", "10¹", "10²"]
SYM_MINOR = [m * 10 for m in range(2, 10)] + [-m * 10 for m in range(2, 10)]
set_ticks(p1.yaxis[0], s(SYM_TICKS), SYM_LABELS, s(SYM_MINOR))
make_legend(p1, "PDFs", [("xSigma ∼ x⁻⁰·³⁴⁷⁽³²⁾", r1), ("V", r2), ("xg ∼ x⁰·³⁸⁷⁽⁷⁸⁾", r3)], "top_right",
            label_width=141, spacing=1, title_pad=14, label_height=22, title_standoff=6)

# ---- panel 2
p2 = pdf_figure(-2.466, 2.12, ylab=2)
r1 = series(p2, T3_UP_E, T3_UP, T3_LO_E, T3_LO, T3_E, T3_Y, "#8c564b")
r2 = series(p2, T8_UP_E, T8_UP, T8_LO_E, T8_LO, T8_E, T8_Y, "#e377c2")
r3 = series(p2, T15_UP_E, T15_UP, T15_LO_E, T15_LO, T15_E, T15_Y, "#7f7f7f")
cut(p2)
set_ticks(p2.yaxis[0], [-2, -1, 0, 1, 2], ["−2", "−1", "0", "1", "2"])
make_legend(p2, "PDFs", [("T3", r1), ("T8", r2), ("T15", r3)], "top_right", label_width=28, title_pad=3)

# ---- panel 3
p3 = pdf_figure(-4.34, 6.87, ylab=2)
r1 = series(p3, V3_UP_E, V3_UP, V3_LO_E, V3_LO, V3_E, V3_Y, "#2ca02c")
r2 = series(p3, V8_UP_E, V8_UP, V8_LO_E, V8_LO, V8_E, V8_Y, "#d62728")
r3 = series(p3, V15_UP_E, V15_UP, V15_LO_E, V15_LO, V15_E, V15_Y, "#9467bd")
cut(p3)
set_ticks(p3.yaxis[0], [-4, -2, 0, 2, 4, 6], ["−4", "−2", "0", "2", "4", "6"])
make_legend(p3, "PDFs", [("V3", r1), ("V8", r2), ("V15", r3)], "top_left", label_width=28, title_pad=3)

# ---- panel 4
p4 = figure(width=616, height=397, output_backend="svg", toolbar_location=None,
            x_range=Range1d(-150, 3140), y_range=Range1d(-18.15, 19.47),
            min_border_left=71, min_border_right=45, min_border_top=5, min_border_bottom=48)
style(p4, "Datapoint index", "Datapoint value", xstd=4, xlab=3, ylab=2)
set_ticks(p4.xaxis[0], [0, 500, 1000, 1500, 2000, 2500, 3000], ["0", "500", "1000", "1500", "2000", "2500", "3000"])
set_ticks(p4.yaxis[0], [-15, -10, -5, 0, 5, 10, 15], ["−15", "−10", "−5", "0", "5", "10", "15"])
d_y = np.array(DATA_Y)
d_src = ColumnDataSource(dict(x=DATA_X, y0=(d_y - DATA_ERR).tolist(), y1=(d_y + DATA_ERR).tolist()))
truth = p4.line(TRUTH_X, TRUTH_Y, line_color="black", line_width=2.1)
p4.segment("x", "y0", "x", "y1", source=d_src, line_color="black", line_width=1.5)
p4.scatter("x", "y0", source=d_src, marker="dash", size=7, line_color="black", line_width=1.4)
p4.scatter("x", "y1", source=d_src, marker="dash", size=7, line_color="black", line_width=1.4)
fit = p4.patch(FIT_X + FIT_X[::-1], FIT_UP + FIT_LO[::-1], fill_color="#808080", fill_alpha=0.85, line_color=None)
p4.line(FIT_X, FIT_MEAN, line_color="#707070", line_width=2.1)
dummy4 = p4.scatter([3000], [0], marker="dot", size=0, line_alpha=0, fill_alpha=0)
legend_box(p4, 2546, 3090, 18.6, 8.64)
key_errorbar(p4, 430, 264, 250)
make_legend(p4, "Data", [("truth", truth), ("fit", fit), ("data", dummy4)], (408, 247), label_width=37, title_pad=4,
            title_standoff=6, boxed=False)

# ---- panel 5
p5 = figure(width=684, height=397, output_backend="svg", toolbar_location=None,
            x_range=Range1d(-0.102, 2.102), y_range=Range1d(-1.294, 1.748),
            min_border_left=70, min_border_right=112, min_border_top=5, min_border_bottom=48)
style(p5, "Hyperparameter name", "Transformed hyperparameter value", xstd=4, xlab=3, ylab=3)
set_ticks(p5.xaxis[0], HP_POS, HP_NAMES)
set_ticks(p5.yaxis[0], [-1, -0.5, 0, 0.5, 1, 1.5], ["−1.0", "−0.5", "0.0", "0.5", "1.0", "1.5"])
prior = p5.patch(HP_POS + HP_POS[::-1], PRIOR_UP + PRIOR_LO[::-1], fill_color="#d3d3d3", line_color=None)
true_r = p5.step(HP_POS, TRUE_VALUE, mode="center", line_color="#ff0000", line_width=2.1)
p5.segment(HP_POS, POST_LO, HP_POS, POST_UP, line_color="black", line_width=2.1)
p5.scatter(HP_POS, POST_LO, marker="dash", size=9, line_color="black", line_width=1.6)
p5.scatter(HP_POS, POST_UP, marker="dash", size=9, line_color="black", line_width=1.6)
post = p5.scatter(HP_POS, POST_MEAN, marker="circle", size=6, fill_color="black", line_color="black")
legend_box(p5, -0.0675, 0.621, 1.68, 0.872)
p5.add_layout(Label(x=0.273, y=1.557, text="Hyperparameters", text_font=FONT, text_font_size="16.7px",
                    text_align="center", text_baseline="middle", text_color="black"))
key_errorbar(p5, 45, 264, 250, 2)
make_legend(p5, None, [("prior", prior), ("true value", true_r), ("posterior", post)], (27, 248), label_width=70,
            boxed=False)

page = column(p1, p2, p3, row(p4, p5, spacing=0), spacing=0)
open("out.html", "w").write(file_html(page, INLINE))
